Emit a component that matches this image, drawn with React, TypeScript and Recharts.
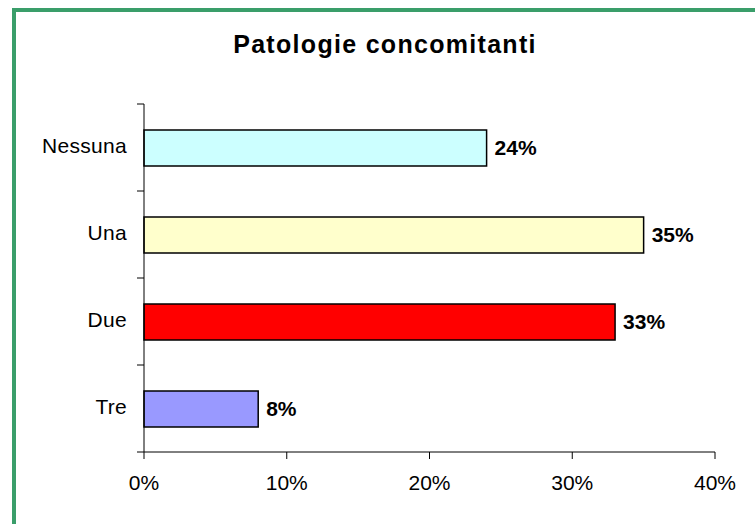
import React from 'react';
import { BarChart, Bar, XAxis, YAxis, Cell, LabelList } from 'recharts';

const categories = ['Nessuna', 'Una', 'Due', 'Tre'];
const values = [24, 35, 33, 8];
const colors = ['#CCFFFF', '#FFFFCC', '#FF0000', '#9999FF'];
const xTicks = [0, 10, 20, 30, 40];
const title = 'Patologie concomitanti';

const data = categories.map((name, i) => ({ name, value: values[i] }));

const FONT = '"Liberation Sans", Arial, sans-serif';

const YTick = (props: any) => {
  const { x, y, payload, index, visibleTicksCount } = props;
  const half = payload.offset || 0;
  const axisX = x + 17;
  return (
    <g>
      <line x1={axisX - 7} x2={axisX} y1={y - half} y2={y - half} stroke="#000" strokeWidth={1} />
      {index === visibleTicksCount - 1 && (
        <line x1={axisX - 7} x2={axisX} y1={y + half} y2={y + half} stroke="#000" strokeWidth={1} />
      )}
      <text x={x} y={y} dy="0.24em" textAnchor="end" fontSize={21} fontFamily={FONT} fill="#000" letterSpacing={0.3}>
        {payload.value}
      </text>
    </g>
  );
};

export default function App() {
  return (
    <div style={{ position: 'absolute', left: 0, top: 0, width: 755, height: 524, overflow: 'hidden', background: '#fff' }}>
      <div
        style={{
          position: 'absolute',
          left: 12,
          top: 8,
          width: 800,
          height: 600,
          borderLeft: '4px solid #3A9E6A',
          borderTop: '4px solid #3A9E6A',
        }}
      />
      <div
        style={{
          position: 'absolute',
          left: 185,
          top: 29,
          width: 400,
          textAlign: 'center',
          fontFamily: FONT,
          fontWeight: 'bold',
          fontSize: 25,
          letterSpacing: 1.3,
          lineHeight: '30px',
          color: '#000',
        }}
      >
        {title}
      </div>
      <div style={{ position: 'absolute', left: 0, top: 0 }}>
        <BarChart
          width={755}
          height={524}
          data={data}
          layout="vertical"
          margin={{ top: 104, right: 40, bottom: 42, left: 0 }}
        >
          <XAxis
            type="number"
            domain={[0, 40]}
            ticks={xTicks}
            tickFormatter={(v: number) => `${v}%`}
            axisLine={{ stroke: '#000', strokeWidth: 1 }}
            tickLine={{ stroke: '#000', strokeWidth: 1 }}
            tickSize={7}
            tickMargin={16}
            height={30}
            tick={{ fontSize: 21, fontFamily: FONT, fill: '#000' }}
            interval={0}
          />
          <YAxis
            type="category"
            dataKey="name"
            width={144}
            axisLine={{ stroke: '#000', strokeWidth: 1 }}
            tickLine={false}
            tickSize={7}
            tickMargin={10}
            tick={<YTick />}
            interval={0}
          />
          <Bar dataKey="value" barSize={36} stroke="#000" strokeWidth={1.5} isAnimationActive={false}>
            {data.map((d, i) => (
              <Cell key={d.name} fill={colors[i]} />
            ))}
            <LabelList
              dataKey="value"
              position="right"
              offset={8}
              formatter={(v: number) => `${v}%`}
              style={{ fontSize: 21, fontWeight: 'bold', fontFamily: FONT, fill: '#000' }}
            />
          </Bar>
        </BarChart>
      </div>
    </div>
  );
}
